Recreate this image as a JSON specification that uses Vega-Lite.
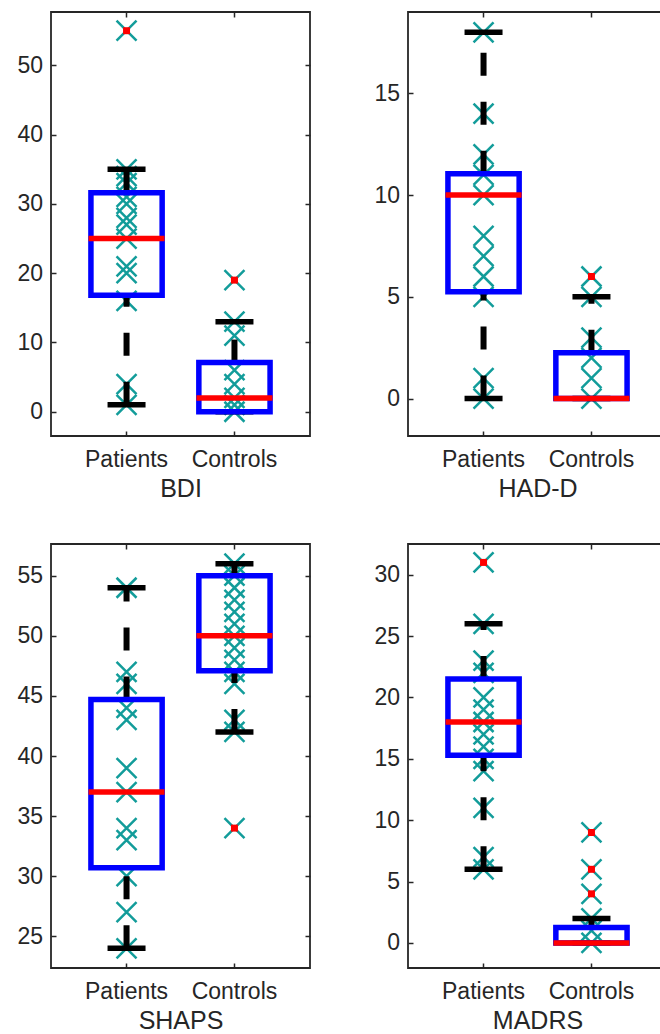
{
"$schema": "https://vega.github.io/schema/vega-lite/v6.json",
"background": "white",
"padding": {"left": 16, "top": 10, "right": 0, "bottom": 0},
"datasets": {
"pts": [
{"scale":"BDI","group":"Patients","value":55,"outlier":true},
{"scale":"BDI","group":"Patients","value":35,"outlier":false},
{"scale":"BDI","group":"Patients","value":34,"outlier":false},
{"scale":"BDI","group":"Patients","value":33,"outlier":false},
{"scale":"BDI","group":"Patients","value":31,"outlier":false},
{"scale":"BDI","group":"Patients","value":30,"outlier":false},
{"scale":"BDI","group":"Patients","value":28,"outlier":false},
{"scale":"BDI","group":"Patients","value":27,"outlier":false},
{"scale":"BDI","group":"Patients","value":25,"outlier":false},
{"scale":"BDI","group":"Patients","value":21,"outlier":false},
{"scale":"BDI","group":"Patients","value":20,"outlier":false},
{"scale":"BDI","group":"Patients","value":16,"outlier":false},
{"scale":"BDI","group":"Patients","value":4,"outlier":false},
{"scale":"BDI","group":"Patients","value":1,"outlier":false},
{"scale":"BDI","group":"Controls","value":19,"outlier":true},
{"scale":"BDI","group":"Controls","value":13,"outlier":false},
{"scale":"BDI","group":"Controls","value":11,"outlier":false},
{"scale":"BDI","group":"Controls","value":6,"outlier":false},
{"scale":"BDI","group":"Controls","value":4,"outlier":false},
{"scale":"BDI","group":"Controls","value":2,"outlier":false},
{"scale":"BDI","group":"Controls","value":1,"outlier":false},
{"scale":"BDI","group":"Controls","value":0,"outlier":false},
{"scale":"HAD-D","group":"Patients","value":18,"outlier":false},
{"scale":"HAD-D","group":"Patients","value":14,"outlier":false},
{"scale":"HAD-D","group":"Patients","value":12,"outlier":false},
{"scale":"HAD-D","group":"Patients","value":11,"outlier":false},
{"scale":"HAD-D","group":"Patients","value":10,"outlier":false},
{"scale":"HAD-D","group":"Patients","value":8,"outlier":false},
{"scale":"HAD-D","group":"Patients","value":7,"outlier":false},
{"scale":"HAD-D","group":"Patients","value":6,"outlier":false},
{"scale":"HAD-D","group":"Patients","value":5,"outlier":false},
{"scale":"HAD-D","group":"Patients","value":1,"outlier":false},
{"scale":"HAD-D","group":"Patients","value":0,"outlier":false},
{"scale":"HAD-D","group":"Controls","value":6,"outlier":true},
{"scale":"HAD-D","group":"Controls","value":5,"outlier":false},
{"scale":"HAD-D","group":"Controls","value":3,"outlier":false},
{"scale":"HAD-D","group":"Controls","value":2,"outlier":false},
{"scale":"HAD-D","group":"Controls","value":1,"outlier":false},
{"scale":"HAD-D","group":"Controls","value":0,"outlier":false},
{"scale":"SHAPS","group":"Patients","value":54,"outlier":false},
{"scale":"SHAPS","group":"Patients","value":47,"outlier":false},
{"scale":"SHAPS","group":"Patients","value":46,"outlier":false},
{"scale":"SHAPS","group":"Patients","value":44,"outlier":false},
{"scale":"SHAPS","group":"Patients","value":43,"outlier":false},
{"scale":"SHAPS","group":"Patients","value":39,"outlier":false},
{"scale":"SHAPS","group":"Patients","value":37,"outlier":false},
{"scale":"SHAPS","group":"Patients","value":34,"outlier":false},
{"scale":"SHAPS","group":"Patients","value":33,"outlier":false},
{"scale":"SHAPS","group":"Patients","value":30,"outlier":false},
{"scale":"SHAPS","group":"Patients","value":27,"outlier":false},
{"scale":"SHAPS","group":"Patients","value":24,"outlier":false},
{"scale":"SHAPS","group":"Controls","value":56,"outlier":false},
{"scale":"SHAPS","group":"Controls","value":55,"outlier":false},
{"scale":"SHAPS","group":"Controls","value":54,"outlier":false},
{"scale":"SHAPS","group":"Controls","value":53,"outlier":false},
{"scale":"SHAPS","group":"Controls","value":52,"outlier":false},
{"scale":"SHAPS","group":"Controls","value":51,"outlier":false},
{"scale":"SHAPS","group":"Controls","value":50,"outlier":false},
{"scale":"SHAPS","group":"Controls","value":49,"outlier":false},
{"scale":"SHAPS","group":"Controls","value":48,"outlier":false},
{"scale":"SHAPS","group":"Controls","value":47,"outlier":false},
{"scale":"SHAPS","group":"Controls","value":46,"outlier":false},
{"scale":"SHAPS","group":"Controls","value":43,"outlier":false},
{"scale":"SHAPS","group":"Controls","value":42,"outlier":false},
{"scale":"SHAPS","group":"Controls","value":34,"outlier":true},
{"scale":"MADRS","group":"Patients","value":31,"outlier":true},
{"scale":"MADRS","group":"Patients","value":26,"outlier":false},
{"scale":"MADRS","group":"Patients","value":23,"outlier":false},
{"scale":"MADRS","group":"Patients","value":22,"outlier":false},
{"scale":"MADRS","group":"Patients","value":20,"outlier":false},
{"scale":"MADRS","group":"Patients","value":19,"outlier":false},
{"scale":"MADRS","group":"Patients","value":18,"outlier":false},
{"scale":"MADRS","group":"Patients","value":17,"outlier":false},
{"scale":"MADRS","group":"Patients","value":16,"outlier":false},
{"scale":"MADRS","group":"Patients","value":15,"outlier":false},
{"scale":"MADRS","group":"Patients","value":14,"outlier":false},
{"scale":"MADRS","group":"Patients","value":11,"outlier":false},
{"scale":"MADRS","group":"Patients","value":7,"outlier":false},
{"scale":"MADRS","group":"Patients","value":6,"outlier":false},
{"scale":"MADRS","group":"Controls","value":9,"outlier":true},
{"scale":"MADRS","group":"Controls","value":6,"outlier":true},
{"scale":"MADRS","group":"Controls","value":4,"outlier":true},
{"scale":"MADRS","group":"Controls","value":2,"outlier":false},
{"scale":"MADRS","group":"Controls","value":1,"outlier":false},
{"scale":"MADRS","group":"Controls","value":0,"outlier":false}
],
"stats": [
{"scale":"BDI","group":"Patients","lo":1,"q1":16.8,"median":25,"q3":31.6,"hi":35},
{"scale":"BDI","group":"Controls","lo":0,"q1":0,"median":2,"q3":7.1,"hi":13},
{"scale":"HAD-D","group":"Patients","lo":0,"q1":5.25,"median":10,"q3":11.05,"hi":18},
{"scale":"HAD-D","group":"Controls","lo":0,"q1":0,"median":0,"q3":2.25,"hi":5},
{"scale":"SHAPS","group":"Patients","lo":24,"q1":30.7,"median":37,"q3":44.7,"hi":54},
{"scale":"SHAPS","group":"Controls","lo":42,"q1":47.1,"median":50,"q3":55,"hi":56},
{"scale":"MADRS","group":"Patients","lo":6,"q1":15.3,"median":18,"q3":21.5,"hi":26},
{"scale":"MADRS","group":"Controls","lo":0,"q1":0,"median":0,"q3":1.25,"hi":2}
]
},
"columns": 2,
"spacing": {"row": 108, "column": 98},
"bounds": "flush",
"concat": [
{
"width": 259, "height": 424,
"encoding": {"x": {"field":"group","type":"nominal","scale":{"type":"band","domain":["Patients","Controls"],"paddingInner":0.34,"paddingOuter":0.37},"axis":null}},
"layer": [
{"data":{"name":"pts"},"transform":[{"filter":"datum.scale==='BDI'"}],
"mark":{"type":"point","shape":"M-1,-1L1,1M-1,1L1,-1","size":400,"filled":false,"stroke":"#129c9a","strokeWidth":2.5,"opacity":1},
"encoding":{"x":{"field":"group","type":"nominal","scale":{"type":"band","domain":["Patients","Controls"],"paddingInner":0.34,"paddingOuter":0.37},"axis":{"orient":"bottom","title":"BDI","labelAngle":0,"ticks":false,"labelPadding":12,"titlePadding":5}},
"y":{"field":"value","type":"quantitative","scale":{"domain":[-3.5,57.7],"nice":false,"zero":false},"axis":{"orient":"left","values":[0,10,20,30,40,50],"title":null,"ticks":false,"labelPadding":8.5}}}},
{"data":{"name":"stats"},"transform":[{"filter":"datum.scale==='BDI'"}],
"mark":{"type":"rule","stroke":"#000000","strokeWidth":6,"strokeDash":[23,26],"strokeCap":"butt"},
"encoding":{"x":{"field":"group","type":"nominal","scale":{"type":"band","domain":["Patients","Controls"],"paddingInner":0.34,"paddingOuter":0.37},"axis":{"orient":"bottom","labels":false,"title":null,"offset":-5}},
"y":{"field":"q3","type":"quantitative","scale":{"domain":[-3.5,57.7],"nice":false,"zero":false},"axis":{"orient":"left","labels":false,"title":null,"offset":-5,"values":[0,10,20,30,40,50]}},"y2":{"field":"hi"}}},
{"data":{"name":"stats"},"transform":[{"filter":"datum.scale==='BDI'"}],
"mark":{"type":"rule","stroke":"#000000","strokeWidth":6,"strokeDash":[23,26],"strokeCap":"butt"},
"encoding":{"x":{"field":"group","type":"nominal","scale":{"type":"band","domain":["Patients","Controls"],"paddingInner":0.34,"paddingOuter":0.37},"axis":{"orient":"top","labels":false,"title":null,"offset":-5}},
"y":{"field":"lo","type":"quantitative","scale":{"domain":[-3.5,57.7],"nice":false,"zero":false},"axis":{"orient":"right","labels":false,"title":null,"offset":-5,"values":[0,10,20,30,40,50]}},"y2":{"field":"q1"}}},
{"data":{"name":"stats"},"transform":[{"filter":"datum.scale==='BDI'"}],
"mark":{"type":"tick","color":"#000000","size":38,"thickness":5.5,"opacity":1},
"encoding":{"y":{"field":"hi","type":"quantitative","scale":{"domain":[-3.5,57.7],"nice":false,"zero":false},"axis":null}}},
{"data":{"name":"stats"},"transform":[{"filter":"datum.scale==='BDI'"}],
"mark":{"type":"tick","color":"#000000","size":38,"thickness":5.5,"opacity":1},
"encoding":{"y":{"field":"lo","type":"quantitative","scale":{"domain":[-3.5,57.7],"nice":false,"zero":false},"axis":null}}},
{"data":{"name":"stats"},"transform":[{"filter":"datum.scale==='BDI'"}],
"mark":{"type":"rect","fill":"transparent","stroke":"#0000ff","strokeWidth":5.5},
"encoding":{"y":{"field":"q1","type":"quantitative","scale":{"domain":[-3.5,57.7],"nice":false,"zero":false},"axis":null},"y2":{"field":"q3"}}},
{"data":{"name":"stats"},"transform":[{"filter":"datum.scale==='BDI'"}],
"mark":{"type":"tick","color":"#ff0000","size":76,"thickness":5.5,"opacity":1},
"encoding":{"y":{"field":"median","type":"quantitative","scale":{"domain":[-3.5,57.7],"nice":false,"zero":false},"axis":null}}},
{"data":{"name":"pts"},"transform":[{"filter":"datum.scale==='BDI' && datum.outlier"}],
"mark":{"type":"point","shape":"square","size":49,"filled":true,"color":"#ff0000","opacity":1},
"encoding":{"y":{"field":"value","type":"quantitative","scale":{"domain":[-3.5,57.7],"nice":false,"zero":false},"axis":null}}}
],
"resolve":{"axis":{"x":"independent","y":"independent"}}
},
{
"width": 259, "height": 424,
"encoding": {"x": {"field":"group","type":"nominal","scale":{"type":"band","domain":["Patients","Controls"],"paddingInner":0.34,"paddingOuter":0.37},"axis":null}},
"layer": [
{"data":{"name":"pts"},"transform":[{"filter":"datum.scale==='HAD-D'"}],
"mark":{"type":"point","shape":"M-1,-1L1,1M-1,1L1,-1","size":400,"filled":false,"stroke":"#129c9a","strokeWidth":2.5,"opacity":1},
"encoding":{"x":{"field":"group","type":"nominal","scale":{"type":"band","domain":["Patients","Controls"],"paddingInner":0.34,"paddingOuter":0.37},"axis":{"orient":"bottom","title":"HAD-D","labelAngle":0,"ticks":false,"labelPadding":12,"titlePadding":5}},
"y":{"field":"value","type":"quantitative","scale":{"domain":[-1.84,19.0],"nice":false,"zero":false},"axis":{"orient":"left","values":[0,5,10,15],"title":null,"ticks":false,"labelPadding":8.5}}}},
{"data":{"name":"stats"},"transform":[{"filter":"datum.scale==='HAD-D'"}],
"mark":{"type":"rule","stroke":"#000000","strokeWidth":6,"strokeDash":[23,26],"strokeCap":"butt"},
"encoding":{"x":{"field":"group","type":"nominal","scale":{"type":"band","domain":["Patients","Controls"],"paddingInner":0.34,"paddingOuter":0.37},"axis":{"orient":"bottom","labels":false,"title":null,"offset":-5}},
"y":{"field":"q3","type":"quantitative","scale":{"domain":[-1.84,19.0],"nice":false,"zero":false},"axis":{"orient":"left","labels":false,"title":null,"offset":-5,"values":[0,5,10,15]}},"y2":{"field":"hi"}}},
{"data":{"name":"stats"},"transform":[{"filter":"datum.scale==='HAD-D'"}],
"mark":{"type":"rule","stroke":"#000000","strokeWidth":6,"strokeDash":[23,26],"strokeCap":"butt"},
"encoding":{"x":{"field":"group","type":"nominal","scale":{"type":"band","domain":["Patients","Controls"],"paddingInner":0.34,"paddingOuter":0.37},"axis":{"orient":"top","labels":false,"title":null,"offset":-5}},
"y":{"field":"lo","type":"quantitative","scale":{"domain":[-1.84,19.0],"nice":false,"zero":false},"axis":{"orient":"right","labels":false,"title":null,"offset":-5,"values":[0,5,10,15]}},"y2":{"field":"q1"}}},
{"data":{"name":"stats"},"transform":[{"filter":"datum.scale==='HAD-D'"}],
"mark":{"type":"tick","color":"#000000","size":38,"thickness":5.5,"opacity":1},
"encoding":{"y":{"field":"hi","type":"quantitative","scale":{"domain":[-1.84,19.0],"nice":false,"zero":false},"axis":null}}},
{"data":{"name":"stats"},"transform":[{"filter":"datum.scale==='HAD-D'"}],
"mark":{"type":"tick","color":"#000000","size":38,"thickness":5.5,"opacity":1},
"encoding":{"y":{"field":"lo","type":"quantitative","scale":{"domain":[-1.84,19.0],"nice":false,"zero":false},"axis":null}}},
{"data":{"name":"stats"},"transform":[{"filter":"datum.scale==='HAD-D'"}],
"mark":{"type":"rect","fill":"transparent","stroke":"#0000ff","strokeWidth":5.5},
"encoding":{"y":{"field":"q1","type":"quantitative","scale":{"domain":[-1.84,19.0],"nice":false,"zero":false},"axis":null},"y2":{"field":"q3"}}},
{"data":{"name":"stats"},"transform":[{"filter":"datum.scale==='HAD-D'"}],
"mark":{"type":"tick","color":"#ff0000","size":76,"thickness":5.5,"opacity":1},
"encoding":{"y":{"field":"median","type":"quantitative","scale":{"domain":[-1.84,19.0],"nice":false,"zero":false},"axis":null}}},
{"data":{"name":"pts"},"transform":[{"filter":"datum.scale==='HAD-D' && datum.outlier"}],
"mark":{"type":"point","shape":"square","size":49,"filled":true,"color":"#ff0000","opacity":1},
"encoding":{"y":{"field":"value","type":"quantitative","scale":{"domain":[-1.84,19.0],"nice":false,"zero":false},"axis":null}}}
],
"resolve":{"axis":{"x":"independent","y":"independent"}}
},
{
"width": 259, "height": 424,
"encoding": {"x": {"field":"group","type":"nominal","scale":{"type":"band","domain":["Patients","Controls"],"paddingInner":0.34,"paddingOuter":0.37},"axis":null}},
"layer": [
{"data":{"name":"pts"},"transform":[{"filter":"datum.scale==='SHAPS'"}],
"mark":{"type":"point","shape":"M-1,-1L1,1M-1,1L1,-1","size":400,"filled":false,"stroke":"#129c9a","strokeWidth":2.5,"opacity":1},
"encoding":{"x":{"field":"group","type":"nominal","scale":{"type":"band","domain":["Patients","Controls"],"paddingInner":0.34,"paddingOuter":0.37},"axis":{"orient":"bottom","title":"SHAPS","labelAngle":0,"ticks":false,"labelPadding":12,"titlePadding":5}},
"y":{"field":"value","type":"quantitative","scale":{"domain":[22.36,57.64],"nice":false,"zero":false},"axis":{"orient":"left","values":[25,30,35,40,45,50,55],"title":null,"ticks":false,"labelPadding":8.5}}}},
{"data":{"name":"stats"},"transform":[{"filter":"datum.scale==='SHAPS'"}],
"mark":{"type":"rule","stroke":"#000000","strokeWidth":6,"strokeDash":[23,26],"strokeCap":"butt"},
"encoding":{"x":{"field":"group","type":"nominal","scale":{"type":"band","domain":["Patients","Controls"],"paddingInner":0.34,"paddingOuter":0.37},"axis":{"orient":"bottom","labels":false,"title":null,"offset":-5}},
"y":{"field":"q3","type":"quantitative","scale":{"domain":[22.36,57.64],"nice":false,"zero":false},"axis":{"orient":"left","labels":false,"title":null,"offset":-5,"values":[25,30,35,40,45,50,55]}},"y2":{"field":"hi"}}},
{"data":{"name":"stats"},"transform":[{"filter":"datum.scale==='SHAPS'"}],
"mark":{"type":"rule","stroke":"#000000","strokeWidth":6,"strokeDash":[23,26],"strokeCap":"butt"},
"encoding":{"x":{"field":"group","type":"nominal","scale":{"type":"band","domain":["Patients","Controls"],"paddingInner":0.34,"paddingOuter":0.37},"axis":{"orient":"top","labels":false,"title":null,"offset":-5}},
"y":{"field":"lo","type":"quantitative","scale":{"domain":[22.36,57.64],"nice":false,"zero":false},"axis":{"orient":"right","labels":false,"title":null,"offset":-5,"values":[25,30,35,40,45,50,55]}},"y2":{"field":"q1"}}},
{"data":{"name":"stats"},"transform":[{"filter":"datum.scale==='SHAPS'"}],
"mark":{"type":"tick","color":"#000000","size":38,"thickness":5.5,"opacity":1},
"encoding":{"y":{"field":"hi","type":"quantitative","scale":{"domain":[22.36,57.64],"nice":false,"zero":false},"axis":null}}},
{"data":{"name":"stats"},"transform":[{"filter":"datum.scale==='SHAPS'"}],
"mark":{"type":"tick","color":"#000000","size":38,"thickness":5.5,"opacity":1},
"encoding":{"y":{"field":"lo","type":"quantitative","scale":{"domain":[22.36,57.64],"nice":false,"zero":false},"axis":null}}},
{"data":{"name":"stats"},"transform":[{"filter":"datum.scale==='SHAPS'"}],
"mark":{"type":"rect","fill":"transparent","stroke":"#0000ff","strokeWidth":5.5},
"encoding":{"y":{"field":"q1","type":"quantitative","scale":{"domain":[22.36,57.64],"nice":false,"zero":false},"axis":null},"y2":{"field":"q3"}}},
{"data":{"name":"stats"},"transform":[{"filter":"datum.scale==='SHAPS'"}],
"mark":{"type":"tick","color":"#ff0000","size":76,"thickness":5.5,"opacity":1},
"encoding":{"y":{"field":"median","type":"quantitative","scale":{"domain":[22.36,57.64],"nice":false,"zero":false},"axis":null}}},
{"data":{"name":"pts"},"transform":[{"filter":"datum.scale==='SHAPS' && datum.outlier"}],
"mark":{"type":"point","shape":"square","size":49,"filled":true,"color":"#ff0000","opacity":1},
"encoding":{"y":{"field":"value","type":"quantitative","scale":{"domain":[22.36,57.64],"nice":false,"zero":false},"axis":null}}}
],
"resolve":{"axis":{"x":"independent","y":"independent"}}
},
{
"width": 259, "height": 424,
"encoding": {"x": {"field":"group","type":"nominal","scale":{"type":"band","domain":["Patients","Controls"],"paddingInner":0.34,"paddingOuter":0.37},"axis":null}},
"layer": [
{"data":{"name":"pts"},"transform":[{"filter":"datum.scale==='MADRS'"}],
"mark":{"type":"point","shape":"M-1,-1L1,1M-1,1L1,-1","size":400,"filled":false,"stroke":"#129c9a","strokeWidth":2.5,"opacity":1},
"encoding":{"x":{"field":"group","type":"nominal","scale":{"type":"band","domain":["Patients","Controls"],"paddingInner":0.34,"paddingOuter":0.37},"axis":{"orient":"bottom","title":"MADRS","labelAngle":0,"ticks":false,"labelPadding":12,"titlePadding":5}},
"y":{"field":"value","type":"quantitative","scale":{"domain":[-2.04,32.5],"nice":false,"zero":false},"axis":{"orient":"left","values":[0,5,10,15,20,25,30],"title":null,"ticks":false,"labelPadding":8.5}}}},
{"data":{"name":"stats"},"transform":[{"filter":"datum.scale==='MADRS'"}],
"mark":{"type":"rule","stroke":"#000000","strokeWidth":6,"strokeDash":[23,26],"strokeCap":"butt"},
"encoding":{"x":{"field":"group","type":"nominal","scale":{"type":"band","domain":["Patients","Controls"],"paddingInner":0.34,"paddingOuter":0.37},"axis":{"orient":"bottom","labels":false,"title":null,"offset":-5}},
"y":{"field":"q3","type":"quantitative","scale":{"domain":[-2.04,32.5],"nice":false,"zero":false},"axis":{"orient":"left","labels":false,"title":null,"offset":-5,"values":[0,5,10,15,20,25,30]}},"y2":{"field":"hi"}}},
{"data":{"name":"stats"},"transform":[{"filter":"datum.scale==='MADRS'"}],
"mark":{"type":"rule","stroke":"#000000","strokeWidth":6,"strokeDash":[23,26],"strokeCap":"butt"},
"encoding":{"x":{"field":"group","type":"nominal","scale":{"type":"band","domain":["Patients","Controls"],"paddingInner":0.34,"paddingOuter":0.37},"axis":{"orient":"top","labels":false,"title":null,"offset":-5}},
"y":{"field":"lo","type":"quantitative","scale":{"domain":[-2.04,32.5],"nice":false,"zero":false},"axis":{"orient":"right","labels":false,"title":null,"offset":-5,"values":[0,5,10,15,20,25,30]}},"y2":{"field":"q1"}}},
{"data":{"name":"stats"},"transform":[{"filter":"datum.scale==='MADRS'"}],
"mark":{"type":"tick","color":"#000000","size":38,"thickness":5.5,"opacity":1},
"encoding":{"y":{"field":"hi","type":"quantitative","scale":{"domain":[-2.04,32.5],"nice":false,"zero":false},"axis":null}}},
{"data":{"name":"stats"},"transform":[{"filter":"datum.scale==='MADRS'"}],
"mark":{"type":"tick","color":"#000000","size":38,"thickness":5.5,"opacity":1},
"encoding":{"y":{"field":"lo","type":"quantitative","scale":{"domain":[-2.04,32.5],"nice":false,"zero":false},"axis":null}}},
{"data":{"name":"stats"},"transform":[{"filter":"datum.scale==='MADRS'"}],
"mark":{"type":"rect","fill":"transparent","stroke":"#0000ff","strokeWidth":5.5},
"encoding":{"y":{"field":"q1","type":"quantitative","scale":{"domain":[-2.04,32.5],"nice":false,"zero":false},"axis":null},"y2":{"field":"q3"}}},
{"data":{"name":"stats"},"transform":[{"filter":"datum.scale==='MADRS'"}],
"mark":{"type":"tick","color":"#ff0000","size":76,"thickness":5.5,"opacity":1},
"encoding":{"y":{"field":"median","type":"quantitative","scale":{"domain":[-2.04,32.5],"nice":false,"zero":false},"axis":null}}},
{"data":{"name":"pts"},"transform":[{"filter":"datum.scale==='MADRS' && datum.outlier"}],
"mark":{"type":"point","shape":"square","size":49,"filled":true,"color":"#ff0000","opacity":1},
"encoding":{"y":{"field":"value","type":"quantitative","scale":{"domain":[-2.04,32.5],"nice":false,"zero":false},"axis":null}}}
],
"resolve":{"axis":{"x":"independent","y":"independent"}}
}
],
"config": {
"font": "Liberation Sans",
"view": {"stroke": "#262626", "strokeWidth": 1.8},
"axis": {"grid": false, "domain": false, "labelFont": "Liberation Sans", "labelFontSize": 23, "labelColor": "#262626", "titleFont": "Liberation Sans", "titleFontSize": 25, "titleFontWeight": "normal", "titleColor": "#262626", "tickColor": "#262626", "tickWidth": 1.5, "tickSize": 5}
}
}
